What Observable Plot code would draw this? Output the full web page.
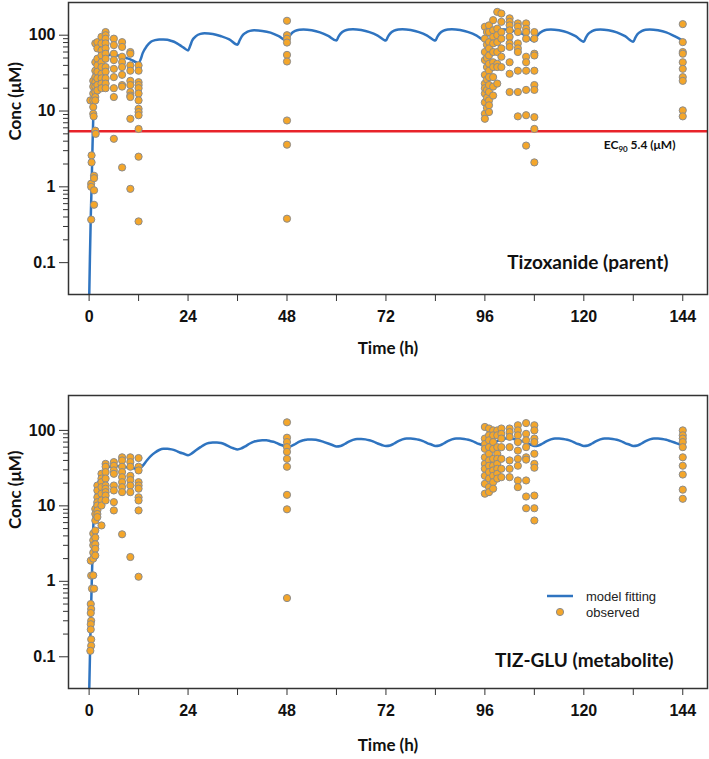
<!DOCTYPE html>
<html>
<head>
<meta charset="utf-8">
<script src="https://cdn.jsdelivr.net/npm/d3@7"></script>
<script src="https://cdn.jsdelivr.net/npm/@observablehq/plot@0.6"></script>
<style>
  html, body { margin: 0; padding: 0; background: #fff; }
  #wrap { position: relative; width: 709px; height: 759px; }
  #wrap svg { display: block; }
  #legend { position: absolute; left: 540px; top: 588px; font-family: "Liberation Sans", Arial, sans-serif; font-size: 13px; color: #222; }
  #legend div { display: flex; align-items: center; height: 16px; }
</style>
</head>
<body>
<div id="wrap">
  <div id="top"></div>
  <div id="bottom"></div>
  <div id="legend">
    <div><svg width="46" height="16"><line x1="7" x2="33" y1="8" y2="8" stroke="#2f74c0" stroke-width="2.5"/></svg><span>model fitting</span></div>
    <div><svg width="46" height="16"><circle cx="20" cy="8" r="3.6" fill="#f4a62a" stroke="#8c8c8c" stroke-width="1"/></svg><span>observed</span></div>
  </div>
</div>
<script>
// ---------- data ----------
const timeTicks = [0, 12, 24, 36, 48, 60, 72, 84, 96, 108, 120, 132, 144];
const concMajorTicks = [0.1, 1, 10, 100];
const concMinorTicks = [0.2,0.3,0.4,0.5,0.6,0.7,0.8,0.9, 2,3,4,5,6,7,8,9, 20,30,40,50,60,70,80,90];
const ec90 = 5.4;

// Tizoxanide (parent): observed [time h, conc µM]
const parentObserved = [
  [0.3,13.8],[0.6,2.6],[0.6,2.1],[0.5,1.1],[0.5,1.0],[0.5,0.37],[1.2,1.4],[1.2,1.3],[1.2,0.9],[1.2,0.58],
  [1,25],[1,21],[1,17],[1,13.8],[1,11.3],[1,9.2],[1.1,8.5],
  [1.5,78],[1.5,44],[1.5,34],[1.5,28],[1.5,24],[1.5,21],[1.5,17.8],[1.5,15.3],[1.5,13.8],[1.5,5.5],[1.6,5.0],
  [2,81],[2,67],[2,49],[2,40],[2,33],[2,27],[2,22],[2,18.7],
  [3,95],[3,78],[3,63],[3,54],[3,44],[3,38],[3,31],[3,27],[3,23],[3,20],
  [4,110],[4,100],[4,90],[4,78],[4,67],[4,57],[4,49],[4,38],[4,33],[4,27],[4,23],[4,20],
  [6,90],[6,74],[6,57],[6,47],[6,36],[6,28],[6,20],[6,15.3],[6,4.3],
  [8,81],[8,70],[8,52],[8,44],[8,38],[8,30],[8,22],[8,21],[8,1.8],
  [10,60],[10,57],[10,40],[10,34],[10,25],[10,22],[10,17.8],[10,16],[10,15.3],[10,7.9],[10,0.94],
  [12,40],[12,34],[12,24],[12,22],[12,20],[12,17],[12,13.8],[12,10.7],[12,9.7],[12,8.8],[12,5.8],[12,2.5],[12,0.35],
  [48,155],[48,100],[48,90],[48,80],[48,55],[48,45],[48,7.5],[48,3.6],[48,0.38],
  [96,129],[96,90],[96,60],[96,47],[96,30],[96,23],[96,20],[96,17],[96,13],[96,9.2],[96,7.9],
  [96.5,110],[96.5,75],[96.5,50],[96.5,38],[96.5,26],[96.5,19],[96.5,15],[96.5,11],
  [97,135],[97,110],[97,81],[97,67],[97,54],[97,42],[97,34],[97,28],[97,22],[97,17.8],[97,13.8],[97,11.9],[97,9.7],
  [98,158],[98,116],[98,95],[98,78],[98,60],[98,44],[98,38],[98,28],[98,21],[98,16],
  [99,203],[99,122],[99,100],[99,81],[99,60],[99,42],[99,38],[99,23],
  [100,193],[100,150],[100,110],[100,90],[100,67],[100,52],[100,38],
  [102,167],[102,150],[102,135],[102,116],[102,95],[102,78],[102,70],[102,44],[102,31],[102,17.8],
  [104,143],[104,130],[104,110],[104,78],[104,67],[104,60],[104,34],[104,17.8],[104,8.5],
  [106,143],[106,122],[106,110],[106,90],[106,52],[106,44],[106,34],[106,19],[106,8.8],[106,3.5],
  [108,110],[108,90],[108,57],[108,54],[108,34],[108,22],[108,19],[108,8.3],[108,5.8],[108,2.1],
  [144,140],[144,81],[144,60],[144,57],[144,44],[144,36],[144,28],[144,25],[144,10.2],[144,8.5]
];

// Tizoxanide (parent): model fitting [time h, conc µM]
const parentModel = [
  [0,0.03],[0.2,0.12],[0.4,0.4],[0.6,1.0],[0.8,3],[1.0,8],[1.2,14],[1.5,22],[2,32],[2.5,40],[3,45],[4,52],[5,55],[6,55],[7,54],[8,52],[9,50],[10,48],[11,45],[12,43],
  [12.5,48],[13,58],[14,72],[15,82],[16,86],[17,88],[18,88],[19,87],[20,84],[21,80],[22,74],[23,68],[24,63],
  [24.5,72],[25,85],[26,98],[27,104],[28,106],[30,104],[32,97],[34,88],[36,75],
  [36.5,85],[37,96],[38,108],[39,114],[40,116],[42,114],[44,108],[46,97],[48,84],
  [48.5,95],[49,104],[50,114],[51,118],[52,119],[54,116],[56,109],[58,98],[60,85],
  [60.5,96],[61,105],[62,115],[63,119],[64,120],[66,117],[68,110],[70,99],[72,85],
  [72.5,96],[73,105],[74,115],[75,119],[76,120],[78,117],[80,110],[82,99],[84,85],
  [84.5,96],[85,105],[86,115],[87,119],[88,120],[90,117],[92,110],[94,99],[96,85],
  [96.5,96],[97,105],[98,115],[99,119],[100,120],[102,117],[104,110],[106,98],[108,83],
  [108.5,94],[109,103],[110,113],[111,118],[112,119],[114,116],[116,109],[118,97],[120,82],
  [120.5,93],[121,103],[122,113],[123,118],[124,119],[126,116],[128,109],[130,97],[132,82],
  [132.5,93],[133,103],[134,113],[135,118],[136,119],[138,116],[140,109],[142,97],[144,85]
];

// TIZ-GLU (metabolite): observed [time h, conc µM]
const metaboliteObserved = [
  [0.4,1.88],[0.5,1.19],[0.7,0.8],[0.4,0.5],[0.5,0.43],[0.4,0.38],[0.5,0.3],[0.4,0.27],[0.4,0.23],[0.5,0.17],[0.5,0.14],[0.3,0.12],
  [1,4.3],[1,3.5],[1,3.0],[1,2.4],[1,2.0],[1,1.2],[1.2,0.8],
  [1.5,9.1],[1.5,7.8],[1.5,6.4],[1.5,4.7],[1.5,3.8],[1.5,3.1],[1.5,2.7],[1.5,2.2],
  [2,18.6],[2,16],[2,13],[2,11.2],[2,10.1],[2,8.7],[2,7.8],[2,7.1],
  [3,26.6],[3,23],[3,20.6],[3,17.7],[3,14.5],[3,11.8],[3,10.1],[3,5.5],
  [4,36],[4,33],[4,28],[4,23],[4,18.6],[4,16.9],[4,15.2],[4,13.7],[4,11.8],
  [6,38],[6,34],[6,29.5],[6,26.6],[6,18.6],[6,16],[6,11.2],[6,8.7],
  [8,44],[8,40],[8,33],[8,28],[8,24],[8,20.6],[8,17.7],[8,15.2],[8,4.2],
  [10,44],[10,38],[10,33],[10,25],[10,22],[10,18.6],[10,15.2],[10,2.1],
  [12,43],[12,33],[12,29.5],[12,20.6],[12,18.6],[12,16.9],[12,13],[12,11.8],[12,8.7],[12,1.15],
  [48,128],[48,80],[48,70],[48,60],[48,52],[48,42],[48,33],[48,14],[48,9],[48,0.6],
  [96,111],[96,78],[96,66],[96,57],[96,44],[96,36],[96,31],[96,25],[96,19.6],[96,14.5],
  [97,106],[97,86],[97,74],[97,60],[97,49],[97,40],[97,34],[97,28],[97,23],[97,17.7],[97,15.2],
  [98,100],[98,86],[98,70],[98,57],[98,42],[98,34],[98,29.5],[98,25],[98,20.6],[98,16.9],
  [99,100],[99,86],[99,60],[99,49],[99,42],[99,36],[99,31],[99,26.6],[99,23],
  [100,106],[100,90],[100,78],[100,60],[100,42],[100,31],[100,24],
  [102,106],[102,95],[102,82],[102,60],[102,40],[102,31],[102,24],
  [104,117],[104,100],[104,86],[104,70],[104,54],[104,42],[104,34],[104,21.7],[104,17.7],
  [106,125],[106,90],[106,74],[106,60],[106,44],[106,41],[106,21.7],[106,13.3],[106,9.3],
  [108,117],[108,100],[108,78],[108,70],[108,49],[108,36],[108,32],[108,13.7],[108,9.3],[108,6.4],
  [144,100],[144,86],[144,78],[144,70],[144,60],[144,44],[144,34],[144,26],[144,16.4],[144,12.4]
];

// TIZ-GLU (metabolite): model fitting [time h, conc µM]
const metaboliteModel = [
  [0,0.03],[0.2,0.1],[0.4,0.3],[0.6,0.8],[0.8,2],[1.0,5],[1.2,8],[1.5,12],[2,18],[2.5,23],[3,27],[4,31],[5,33],[6,34],[8,33],[10,32],[12,31],
  [13,34],[14,40],[15,46],[16,51],[17,55],[18,57],[19,57],[20,56],[21,54],[22,51],[23,49],[24,47],
  [25,50],[26,55],[27,60],[28,65],[29,68],[30,69],[31,69],[32,68],[33,65],[34,61],[35,58],[36,56],
  [37,58],[38,62],[39,67],[40,71],[41,73],[42,74],[43,74],[44,72],[45,70],[46,66],[47,63],[48,60],
  [49,62],[50,66],[51,71],[52,74],[53,76],[54,76],[55,75],[56,73],[57,70],[58,67],[59,64],[60,61],
  [61,62],[62,66],[63,71],[64,75],[65,77],[66,77],[67,76],[68,74],[69,71],[70,67],[71,64],[72,62],
  [73,63],[74,67],[75,72],[76,76],[77,78],[78,78],[79,77],[80,75],[81,72],[82,68],[83,65],[84,62],
  [85,63],[86,67],[87,72],[88,76],[89,78],[90,78],[91,77],[92,75],[93,72],[94,68],[95,65],[96,62],
  [97,63],[98,67],[99,72],[100,76],[101,78],[102,78],[103,77],[104,75],[105,72],[106,68],[107,65],[108,62],
  [109,63],[110,67],[111,72],[112,76],[113,78],[114,78],[115,77],[116,75],[117,72],[118,68],[119,65],[120,62],
  [121,63],[122,67],[123,72],[124,76],[125,78],[126,78],[127,77],[128,75],[129,72],[130,68],[131,65],[132,62],
  [133,63],[134,67],[135,72],[136,76],[137,78],[138,78],[139,77],[140,75],[141,72],[142,69],[143,66],[144,64]
];

const panelTitles = ["Tizoxanide (parent)", "TIZ-GLU (metabolite)"];
const xLabel = "Time (h)";
const yLabel = "Conc (\u03bcM)";
const ecLabel = "EC90 5.4 (\u03bcM)";

// ---------- styles ----------
const lineColor = "#2f74c0";
const dotFill = "#f4a62a";
const dotStroke = "#8c8c8c";
const redColor = "#e8232a";
const labelFont = "Lato, 'Open Sans', sans-serif";

function panel({observed, model, title, height, marginTop, marginBottom, yDomain, showEC, titleDx, titleDy, yLabelDy, xLabelDy}) {
  const marks = [];
  if (showEC) {
    marks.push(Plot.ruleY([ec90], {stroke: redColor, strokeWidth: 2.5}));
  }
  marks.push(
    Plot.line(model, {x: d => d[0], y: d => d[1], stroke: lineColor, strokeWidth: 2.5, curve: "monotone-x", clip: true}),
    Plot.dot(observed, {x: d => d[0], y: d => d[1], r: 3.6, fill: dotFill, stroke: dotStroke, strokeWidth: 1}),
    Plot.frame({stroke: "#333", strokeWidth: 1.5}),
    Plot.axisX({ticks: timeTicks, tickFormat: d => (d % 24 === 0 ? String(d) : ""), tickSize: 7, tickPadding: 9, label: null,
      fontSize: 16, fontWeight: "bold", fontFamily: "'Liberation Sans', Arial, sans-serif", stroke: "#333"}),
    Plot.axisY({ticks: concMajorTicks, tickFormat: d => String(d), tickSize: 9, tickPadding: 4, label: null,
      fontSize: 16, fontWeight: "bold", fontFamily: "'Liberation Sans', Arial, sans-serif", stroke: "#333"}),
    Plot.axisY({ticks: concMinorTicks, tickFormat: () => "", tickSize: 5, label: null, stroke: "#333"}),
    Plot.text([title], {frameAnchor: "bottom-right", dx: titleDx, dy: titleDy, textAnchor: "end", lineAnchor: "middle",
      fontSize: 19, fontWeight: "bold", fontFamily: labelFont, fill: "#111"}),
    Plot.text([xLabel], {frameAnchor: "bottom", dy: xLabelDy, lineAnchor: "middle",
      fontSize: 17, fontWeight: "bold", fontFamily: labelFont, fill: "#111"}),
    Plot.text([yLabel], {frameAnchor: "left", dx: -53, dy: yLabelDy, rotate: -90, lineAnchor: "middle",
      fontSize: 17, fontWeight: "bold", fontFamily: labelFont, fill: "#111"})
  );
  if (showEC) {
    marks.push(Plot.text([ec90], {y: d => d, text: () => ecLabel, frameAnchor: "right", dx: -32, dy: 14, textAnchor: "end",
      lineAnchor: "middle", fontSize: 12, fontWeight: "bold", fontFamily: labelFont, fill: "#111", className: "ec90"}));
  }
  return Plot.plot({
    width: 709, height, marginLeft: 68, marginRight: 2, marginTop, marginBottom,
    x: {domain: [-5, 150]},
    y: {type: "log", domain: yDomain},
    style: {background: "#fff", color: "#111", overflow: "visible"},
    marks
  });
}

const topPlot = panel({observed: parentObserved, model: parentModel, title: panelTitles[0], height: 382, marginTop: 2, marginBottom: 88,
  yDomain: [0.038, 270], showEC: true, titleDx: -39, titleDy: -32, yLabelDy: -8, xLabelDy: 54});
document.getElementById("top").appendChild(topPlot);

const bottomPlot = panel({observed: metaboliteObserved, model: metaboliteModel, title: panelTitles[1], height: 377, marginTop: 13, marginBottom: 71,
  yDomain: [0.038, 290], showEC: false, titleDx: -34, titleDy: -28, yLabelDy: -13, xLabelDy: 57});
document.getElementById("bottom").appendChild(bottomPlot);

// subscript for EC90 label
d3.select(topPlot).selectAll(".ec90 text").each(function() {
  const t = d3.select(this);
  t.text(null);
  t.append("tspan").text("EC");
  t.append("tspan").attr("font-size", 8).attr("dy", 3).text("90");
  t.append("tspan").attr("dy", -3).text(" 5.4 (\u03bcM)");
});
</script>
</body>
</html>
